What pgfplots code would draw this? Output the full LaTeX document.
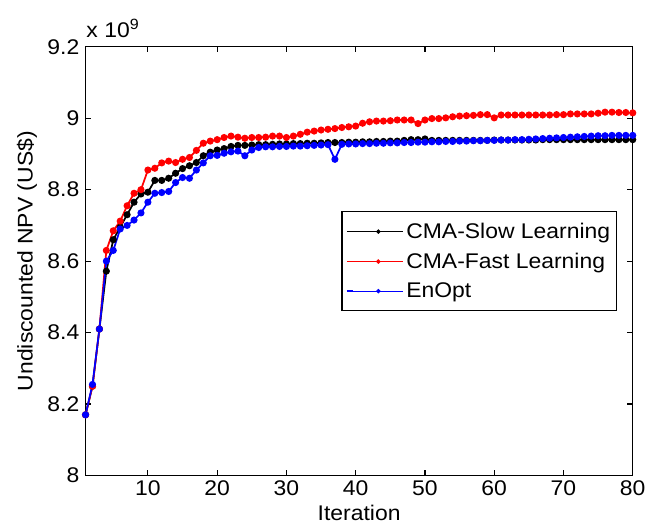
\documentclass[border=0pt]{standalone}
\usepackage{fontspec}
\setmainfont[FakeStretch=1.08]{Liberation Sans}
\usepackage{pgfplots}
\usepackage{pgfplotstable}
\pgfplotsset{compat=1.18}
\newcommand\fs{\fontsize{16}{19}\selectfont}

% iteration, CMA slow, CMA fast, EnOpt  (NPV in 1e9 US$)
\pgfplotstableread{
it slow fast enopt
1 8.170 8.170 8.170
2 8.250 8.250 8.255
3 8.410 8.410 8.410
4 8.572 8.630 8.600
5 8.660 8.685 8.630
6 8.695 8.712 8.690
7 8.730 8.755 8.700
8 8.765 8.790 8.715
9 8.788 8.800 8.735
10 8.793 8.855 8.765
11 8.826 8.860 8.790
12 8.826 8.875 8.792
13 8.832 8.880 8.795
14 8.846 8.876 8.820
15 8.859 8.885 8.834
16 8.867 8.890 8.832
17 8.876 8.910 8.855
18 8.895 8.930 8.875
19 8.905 8.936 8.895
20 8.911 8.940 8.896
21 8.915 8.946 8.902
22 8.921 8.950 8.906
23 8.924 8.947 8.908
24 8.924 8.944 8.895
25 8.925 8.946 8.911
26 8.926 8.946 8.918
27 8.926 8.947 8.920
28 8.927 8.950 8.920
29 8.928 8.950 8.921
30 8.928 8.946 8.921
31 8.929 8.950 8.922
32 8.929 8.955 8.922
33 8.930 8.961 8.923
34 8.930 8.964 8.924
35 8.931 8.967 8.925
36 8.932 8.969 8.926
37 8.932 8.971 8.885
38 8.932 8.974 8.927
39 8.933 8.976 8.928
40 8.933 8.978 8.928
41 8.934 8.986 8.929
42 8.934 8.990 8.929
43 8.935 8.992 8.930
44 8.935 8.992 8.930
45 8.936 8.993 8.931
46 8.936 8.995 8.931
47 8.938 8.995 8.932
48 8.940 8.995 8.932
49 8.940 8.985 8.933
50 8.942 8.995 8.933
51 8.938 8.999 8.934
52 8.938 8.999 8.934
53 8.938 9.001 8.935
54 8.938 9.004 8.935
55 8.938 9.006 8.936
56 8.938 9.007 8.936
57 8.938 9.008 8.937
58 8.938 9.010 8.937
59 8.938 9.010 8.938
60 8.939 9.001 8.938
61 8.939 9.009 8.939
62 8.939 9.009 8.939
63 8.939 9.009 8.940
64 8.939 9.009 8.940
65 8.939 9.009 8.941
66 8.939 9.009 8.942
67 8.940 9.009 8.943
68 8.940 9.009 8.944
69 8.940 9.010 8.945
70 8.940 9.010 8.946
71 8.940 9.012 8.947
72 8.940 9.012 8.948
73 8.940 9.012 8.949
74 8.940 9.012 8.950
75 8.940 9.014 8.951
76 8.940 9.017 8.951
77 8.940 9.017 8.952
78 8.940 9.016 8.952
79 8.940 9.016 8.952
80 8.940 9.015 8.952
}\npvdata

\begin{document}
\begin{tikzpicture}
\begin{axis}[
    name=ax,
    scale only axis,
    width=412.5pt,
    height=323.25pt,
    xmin=1, xmax=80,
    ymin=8, ymax=9.2,
    xtick={10,20,...,80},
    ytick={8,8.2,8.4,8.6,8.8,9,9.2},
    yticklabels={8,8.2,8.4,8.6,8.8,9,9.2},
    tick align=inside,
    tick pos=both,
    major tick length=4pt,
    axis line style={line width=0.9pt},
    tick style={line width=0.9pt, black},
    font=\fs,
    /pgf/number format/assume math mode=true,
    xticklabel style={inner sep=0pt, yshift=-4pt},
    yticklabel style={inner sep=0pt, xshift=-4.5pt},
    xlabel={Iteration},
    ylabel={Undiscounted NPV (US\$)},
    xlabel style={at={(axis description cs:0.5,-0.088)}, anchor=center},
    ylabel style={at={(axis description cs:-0.107,0.5)}, anchor=center},
    legend cell align=left,
    legend style={at={(0.972,0.617)}, anchor=north east, draw=black,
        line width=0.9pt, font=\fs, inner xsep=3pt, inner ysep=6.5pt, row sep=5.5pt},
    legend image code/.code={
        \path (0pt,0pt) -- (5pt,0pt);
        \draw[mark repeat=2, mark phase=2, #1, line width=0.7pt, mark size=1.3pt]
        plot coordinates {(5pt,0pt) (23.75pt,0pt) (42.5pt,0pt)};},
]
\addplot[black, line width=1.3pt, mark=*, mark size=2pt] table[x=it, y=slow] {\npvdata};
\addplot[red, line width=1.3pt, mark=*, mark size=2pt] table[x=it, y=fast] {\npvdata};
\addplot[blue, line width=1.3pt, mark=*, mark size=2pt] table[x=it, y=enopt] {\npvdata};
\legend{CMA-Slow Learning, CMA-Fast Learning, EnOpt}
\end{axis}
\node[anchor=base west, inner sep=0pt, font=\fs] at ([xshift=0.5pt, yshift=6.75pt]ax.north west) {x 10\textsuperscript{9}};
\pgfresetboundingbox
\path[use as bounding box] ([xshift=-64.5pt, yshift=-36.75pt]ax.south west) rectangle ([xshift=10pt, yshift=35.25pt]ax.north east);
\end{tikzpicture}
\end{document}
